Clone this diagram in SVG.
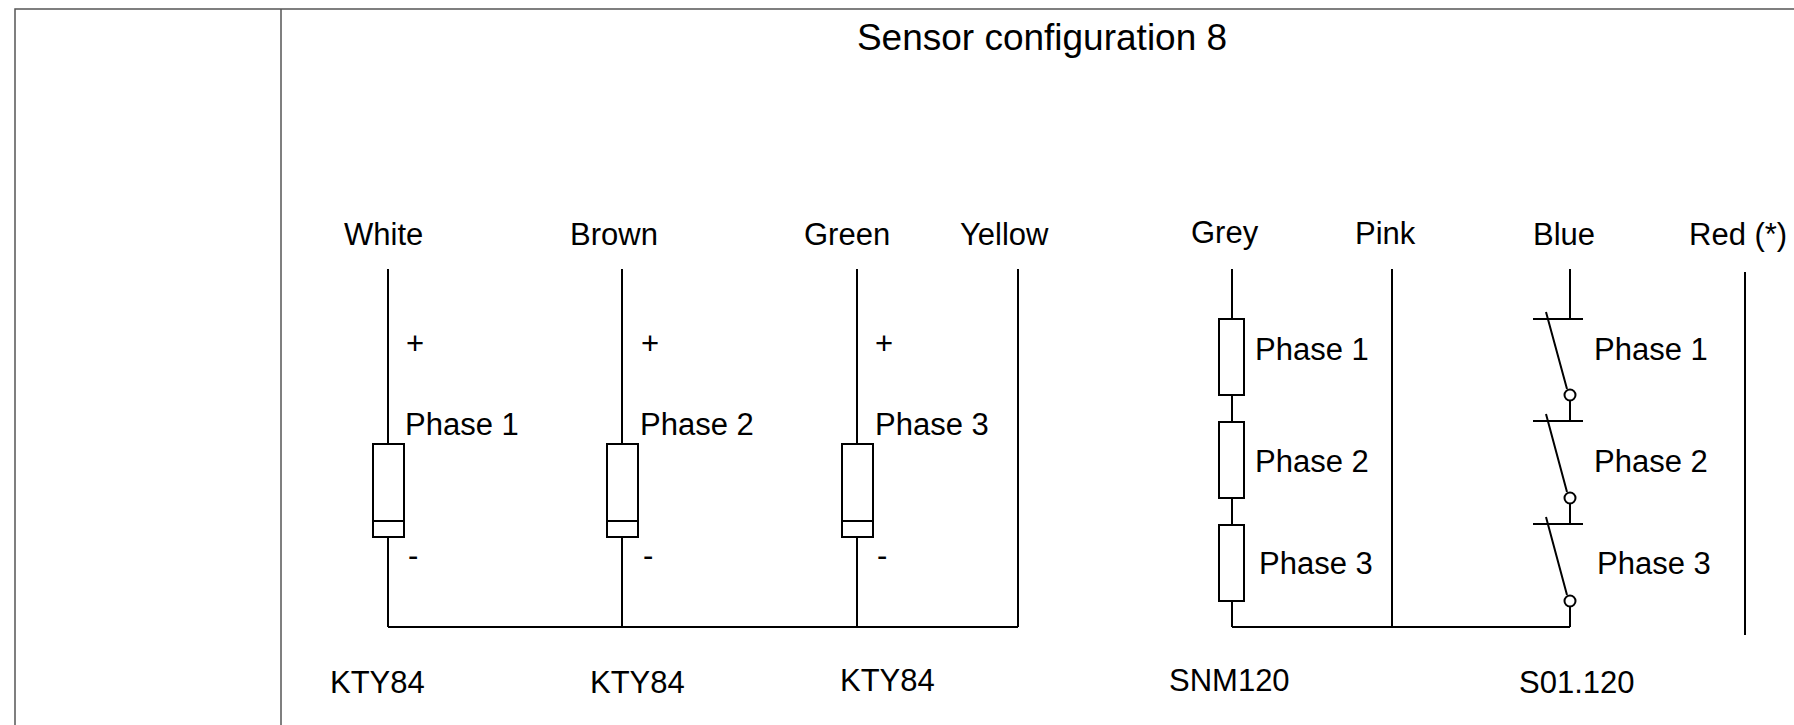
<svg xmlns="http://www.w3.org/2000/svg" width="1794" height="725" viewBox="0 0 1794 725">
<style>
text{font-family:"Liberation Sans",Arial,sans-serif;font-size:31px;fill:#000}
.title{font-size:37px}
.w{stroke:#000;stroke-width:2;fill:none}
.r{stroke:#000;stroke-width:2;fill:#fff}
.frame{stroke:#555;stroke-width:1.5;fill:none}
</style>
<rect width="1794" height="725" fill="#fff"/>
<g id="frame">
<path class="frame" d="M15,725 V9 H1800 M281,9 V725"/>
</g>
<text class="title" x="1042" y="50" text-anchor="middle">Sensor configuration 8</text>
<g id="connectors">
<path class="w" d="M388,269 V444 M388,537 V627 M622,269 V444 M622,537 V627 M857,269 V444 M857,537 V627 M1018,269 V627 M388,627 H1018"/>
<path class="w" d="M1232,269 V319 M1232,395 V422 M1232,498 V525 M1232,601 V627 M1392,269 V627 M1232,627 H1570"/>
<path class="w" d="M1570,269 V319 M1570,400 V421 M1570,503 V524 M1570,606 V627"/>
<path class="w" d="M1745,272 V635"/>
</g>
<g id="labels-top">
<text x="344" y="245">White</text>
<text x="570" y="245">Brown</text>
<text x="804" y="245">Green</text>
<text x="960" y="245">Yellow</text>
<text x="1191" y="243">Grey</text>
<text x="1355" y="244">Pink</text>
<text x="1533" y="245">Blue</text>
<text x="1689" y="245">Red (*)</text>
</g>
<g id="kty1">
<rect class="r" x="373" y="444" width="31" height="93"/>
<path class="w" d="M373,521 H404"/>
<text x="406" y="354">+</text>
<text x="405" y="435">Phase 1</text>
<text x="408" y="566">-</text>
<text x="330" y="693">KTY84</text>
</g>
<g id="kty2">
<rect class="r" x="607" y="444" width="31" height="93"/>
<path class="w" d="M607,521 H638"/>
<text x="641" y="354">+</text>
<text x="640" y="435">Phase 2</text>
<text x="643" y="566">-</text>
<text x="590" y="693">KTY84</text>
</g>
<g id="kty3">
<rect class="r" x="842" y="444" width="31" height="93"/>
<path class="w" d="M842,521 H873"/>
<text x="875" y="354">+</text>
<text x="875" y="435">Phase 3</text>
<text x="877" y="566">-</text>
<text x="840" y="691">KTY84</text>
</g>
<g id="snm120">
<rect class="r" x="1219" y="319" width="25" height="76"/>
<rect class="r" x="1219" y="422" width="25" height="76"/>
<rect class="r" x="1219" y="525" width="25" height="76"/>
<text x="1255" y="360">Phase 1</text>
<text x="1255" y="472">Phase 2</text>
<text x="1259" y="574">Phase 3</text>
<text x="1169" y="691">SNM120</text>
</g>
<g id="s01120">
<path class="w" d="M1533,319 H1583 M1546,312 L1567,389"/>
<circle class="w" cx="1570" cy="395" r="5.5"/>
<path class="w" d="M1533,421 H1583 M1546,414 L1567,492"/>
<circle class="w" cx="1570" cy="498" r="5.5"/>
<path class="w" d="M1533,524 H1583 M1546,517 L1567,595"/>
<circle class="w" cx="1570" cy="601" r="5.5"/>
<text x="1594" y="360">Phase 1</text>
<text x="1594" y="472">Phase 2</text>
<text x="1597" y="574">Phase 3</text>
<text x="1519" y="693">S01.120</text>
</g>
</svg>
